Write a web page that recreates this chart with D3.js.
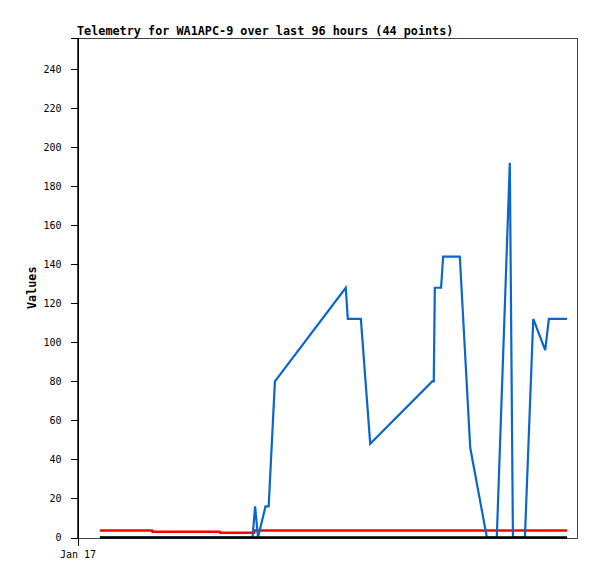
<!DOCTYPE html>
<html>
<head>
<meta charset="utf-8">
<script src="https://cdn.jsdelivr.net/npm/d3@7"></script>
<style>
  body { margin: 0; background: #fff; }
  svg { display: block; font-family: "DejaVu Sans Mono", monospace; }
  .title { font-size: 11.8px; font-weight: bold; }
  .ylabel { font-size: 11.8px; font-weight: bold; }
  .tick text { font-size: 10px; fill: #000; font-family: "DejaVu Sans Mono", monospace; }
</style>
</head>
<body>
<div id="chart"></div>
<script>
const width = 597;
const height = 579;
const margin = { top: 38, right: 20, bottom: 41.5, left: 77 };

const titleText = 'Telemetry for WA1APC-9 over last 96 hours (44 points)';
const yLabel = 'Values';
const yTicks = [0, 20, 40, 60, 80, 100, 120, 140, 160, 180, 200, 220, 240];
const xTickLabels = ['Jan 17'];

// hours since start of the window
const blueHours = [4.4, 33.7, 34.2, 34.75, 36.2, 36.8, 38.0, 51.6, 52.0, 54.5, 56.3,
    68.2, 68.5, 68.7, 69.9, 70.3, 73.5, 75.5, 78.7, 80.6, 83.1, 83.7, 86.0, 87.6, 89.9, 90.6, 94.1];
const blueValues = [0, 0, 16, 0, 16, 16, 80, 128, 112, 112, 48,
    80, 80, 128, 128, 144, 144, 46, 0, 0, 192, 0, 0, 112, 96, 112, 112];

const redHours = [4.4, 14.4, 14.5, 27.4, 27.5, 34.0, 34.1, 94.1];
const redValues = [3.6, 3.6, 2.9, 2.9, 2.4, 2.4, 3.6, 3.6];

const blackHours = [4.4, 94.1];
const blackValues = [0, 0];

const start = new Date(2024, 0, 17, 0, 0);
const toDate = h => new Date(start.getTime() + h * 3600 * 1000);

const svg = d3.select('#chart').append('svg')
    .attr('width', width)
    .attr('height', height);

svg.append('rect').attr('width', width).attr('height', height).attr('fill', '#fff');

const xScale = d3.scaleTime()
    .domain([start, toDate(96)])
    .range([margin.left, width - margin.right]);

const yScale = d3.scaleLinear()
    .domain([0, 256])
    .range([height - margin.bottom, margin.top]);

// frame
svg.append('rect')
    .attr('x', margin.left + 0.5)
    .attr('y', margin.top + 0.5)
    .attr('width', width - margin.right - margin.left)
    .attr('height', height - margin.bottom - margin.top)
    .attr('fill', 'none')
    .attr('stroke', '#444')
    .attr('shape-rendering', 'crispEdges');

const line = d3.line()
    .x(d => xScale(toDate(d[0])))
    .y(d => yScale(d[1]));

const series = [
    { hours: redHours, values: redValues, color: '#ff0000', w: 2.5 },
    { hours: blueHours, values: blueValues, color: '#0a66cc', w: 2.2 },
    { hours: blackHours, values: blackValues, color: '#000000', w: 2.5 },
];

series.forEach(s => {
    svg.append('path')
        .datum(d3.zip(s.hours, s.values))
        .attr('d', line)
        .attr('fill', 'none')
        .attr('stroke', s.color)
        .attr('stroke-width', s.w)
        .attr('stroke-linejoin', 'miter');
});

const yAxis = d3.axisLeft(yScale)
    .tickValues(yTicks)
    .tickSize(7)
    .tickPadding(9);

const yg = svg.append('g')
    .attr('transform', `translate(${margin.left + 0.5},0)`)
    .call(yAxis);
yg.select('.domain').attr('stroke', '#000').attr('shape-rendering', 'crispEdges');
yg.selectAll('.tick line').attr('shape-rendering', 'crispEdges');

const xAxis = d3.axisBottom(xScale)
    .tickValues([start])
    .tickFormat((d, i) => xTickLabels[i])
    .tickSize(8)
    .tickPadding(5);

const xg = svg.append('g')
    .attr('transform', `translate(0.5,${height - margin.bottom})`)
    .call(xAxis);
xg.select('.domain').remove();
xg.selectAll('.tick line').attr('shape-rendering', 'crispEdges');

svg.append('text')
    .attr('class', 'title')
    .attr('x', margin.left)
    .attr('y', 35)
    .text(titleText);

svg.append('text')
    .attr('class', 'ylabel')
    .attr('transform', `translate(36,${(margin.top + height - margin.bottom) / 2}) rotate(-90)`)
    .attr('text-anchor', 'middle')
    .text(yLabel);
</script>
</body>
</html>
